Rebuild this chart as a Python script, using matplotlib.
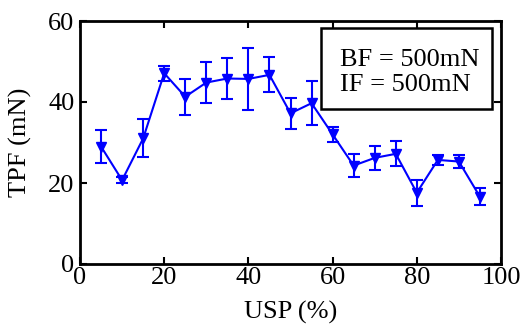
import matplotlib
matplotlib.use('Agg')
import matplotlib.pyplot as plt
from matplotlib.patches import Rectangle

usp = [5, 10, 15, 20, 25, 30, 35, 40, 45, 50, 55, 60, 65, 70, 75, 80, 85, 90, 95]
tpf = [29.0, 20.7, 31.0, 47.1, 41.3, 44.8, 45.8, 45.7, 46.7, 37.2,
       39.7, 32.0, 24.3, 26.2, 27.2, 17.6, 25.7, 25.3, 16.6]
tpf_err = [4.0, 0.8, 4.7, 1.9, 4.4, 5.0, 5.1, 7.7, 4.3, 3.8,
           5.4, 1.8, 2.8, 3.0, 3.1, 3.2, 1.2, 1.7, 2.1]

plt.rcParams['font.family'] = ['Liberation Serif', 'DejaVu Serif']

fig = plt.figure(figsize=(5.21, 3.24), dpi=100)
ax = fig.add_axes([80 / 521, 1 - 264 / 324, 421 / 521, 243 / 324])

ax.errorbar(usp, tpf, yerr=tpf_err, color='#0000ff', marker='v',
            markersize=7, linewidth=1.5, elinewidth=1.5, capsize=4,
            capthick=1.5)

ax.set_xlim(0, 100)
ax.set_ylim(0, 60)
ax.set_xticks([0, 20, 40, 60, 80, 100])
ax.set_yticks([0, 20, 40, 60])
ax.tick_params(direction='in', top=True, right=True, labelsize=19,
               width=1.5, length=5, pad=2)
ax.tick_params(axis='y', pad=4)
for s in ax.spines.values():
    s.set_linewidth(2)
ax.set_xlabel('USP (%)', fontsize=19)
ax.set_ylabel('TPF (mN)', fontsize=19)
ax.xaxis.set_label_coords(0.5, -0.152)
ax.yaxis.set_label_coords(-0.114, 0.5)

# annotation box
ax.add_patch(Rectangle((0.572, 0.638), 0.407, 0.333, transform=ax.transAxes,
                       facecolor='white', edgecolor='black', linewidth=1.8,
                       zorder=5))
ax.text(0.618, 0.788, 'BF = 500mN\nIF = 500mN', transform=ax.transAxes,
        fontsize=19, va='center', ha='left', linespacing=1.15, zorder=6)

plt.savefig('out.png', dpi=100)
